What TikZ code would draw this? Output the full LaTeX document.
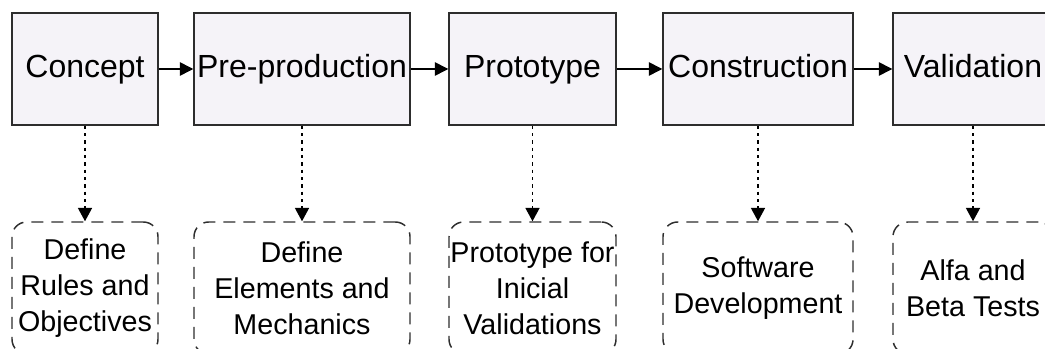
\documentclass[tikz,border=0pt]{standalone}
\usepackage{fontspec}
\setmainfont{Liberation Sans}
\usepackage{tikz}
\usetikzlibrary{arrows.meta, positioning}

\definecolor{phasefill}{RGB}{245,243,248}
\definecolor{linegray}{RGB}{45,45,45}

\begin{document}
\begin{tikzpicture}[
    x=0.75pt, y=-0.75pt,
    phase/.style={rectangle, draw=linegray, fill=phasefill, line width=1.1pt, minimum height=84pt, inner sep=1pt, text height=17.5pt, text depth=5pt, font=\fontsize{24}{28}\selectfont},
    task/.style={rectangle, rounded corners=11pt, draw=linegray, dash pattern=on 9pt off 6pt, line width=1.1pt, minimum height=99pt, align=center, inner sep=1pt, font=\fontsize{21.5}{27}\selectfont},
    flow edge/.style={draw=black, line width=1.1pt, -{Triangle[length=10pt, width=10pt]}},
    link edge/.style={draw=black, line width=1.1pt, dash pattern=on 2.5pt off 3pt, -{Triangle[length=10pt, width=10.5pt]}}
]
\useasboundingbox (0,0) rectangle (1045,349);

% --- Phases along the top row ---
\node[phase, minimum width=109.5pt] (concept) at (85,69) {Concept};
\node[phase, minimum width=162pt] (preprod) at (302,69) {Pre-production};
\node[phase, minimum width=125.25pt] (prototype) at (532.5,69) {Prototype};
\node[phase, minimum width=142.5pt] (construction) at (758,69) {Construction};
\node[phase, minimum width=120pt] (validation) at (973,69) {Validation};

% --- Tasks below each phase ---
\node[task, minimum width=109.5pt] (concept task) at (85,288) {Define\\Rules and\\Objectives};
\node[task, minimum width=162pt] (preprod task) at (302,288) {Define\\Elements and\\Mechanics};
\node[task, minimum width=125.25pt] (prototype task) at (532.5,288) {Prototype for\\Inicial\\Validations};
\node[task, minimum width=142.5pt] (construction task) at (758,288) {Software\\Development};
\node[task, minimum width=120pt] (validation task) at (973,288) {Alfa and\\Beta Tests};

% --- Flow between phases ---
\draw[flow edge] (concept) -- (preprod);
\draw[flow edge] (preprod) -- (prototype);
\draw[flow edge] (prototype) -- (construction);
\draw[flow edge] (construction) -- (validation);

% --- Phase to task links ---
\draw[link edge] (concept) -- (concept task);
\draw[link edge] (preprod) -- (preprod task);
\draw[link edge] (prototype) -- (prototype task);
\draw[link edge] (construction) -- (construction task);
\draw[link edge] (validation) -- (validation task);

\end{tikzpicture}
\end{document}
